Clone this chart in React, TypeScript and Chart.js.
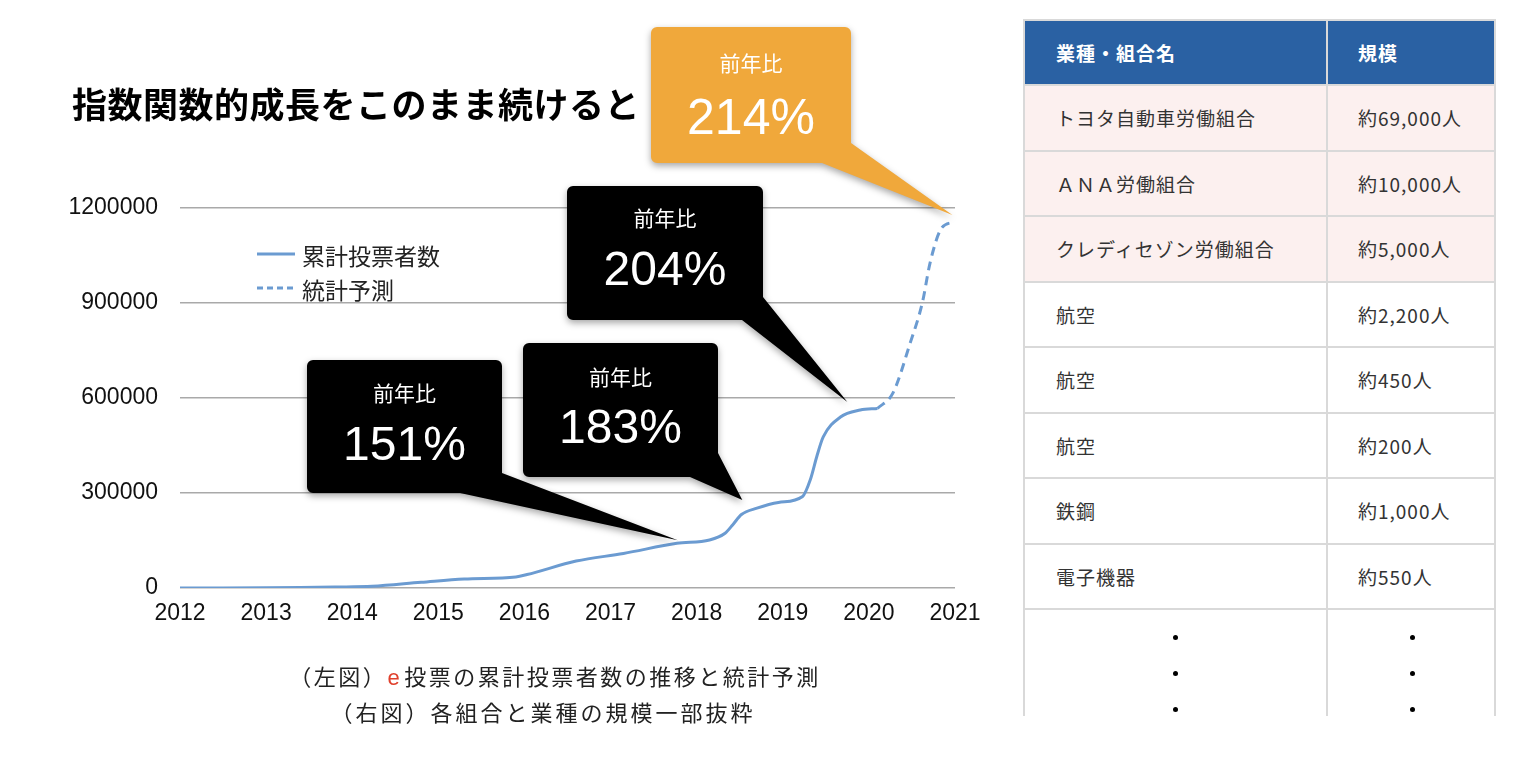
import React, { useEffect, useRef } from 'react';
import { Chart, registerables } from 'chart.js';

Chart.register(...registerables);

// ---------- data ----------
const tickYears = [2012, 2013, 2014, 2015, 2016, 2017, 2018, 2019, 2020, 2021];
const yTicks = [0, 300000, 600000, 900000, 1200000];
const seriesNames = ['累計投票者数', '統計予測'];

const actualYears = [2012, 2012.5, 2013, 2013.4, 2013.8, 2014.23, 2014.8, 2015.3, 2015.9, 2016.03, 2016.6, 2017.15, 2017.77, 2018.15, 2018.33, 2018.42, 2018.52, 2018.7, 2018.95, 2019.23, 2019.32, 2019.4, 2019.47, 2019.67, 2019.9, 2020.1];
const actualVoters = [0, 0, 500, 1500, 3000, 5300, 18000, 28600, 35000, 42400, 85000, 109000, 141000, 151600, 173000, 200000, 232000, 252000, 270000, 289000, 342000, 420000, 477000, 540000, 562000, 567000];

const forecastYears = [2020.1, 2020.28, 2020.48, 2020.62, 2020.71, 2020.83, 2020.98, 2021];
const forecastVoters = [567000, 616000, 774000, 900000, 1026000, 1130000, 1156000, 1158000];

const calloutTitle = '前年比';
const calloutRates = ['151%', '183%', '204%', '214%'];
const calloutYears = [2017.78, 2018.53, 2019.75, 2020.97];
const calloutValues = [151000, 278000, 587000, 1178000];

const tableHeaders = ['業種・組合名', '規模'];
const unionNames = ['トヨタ自動車労働組合', 'ＡＮＡ労働組合', 'クレディセゾン労働組合', '航空', '航空', '航空', '鉄鋼', '電子機器'];
const unionSizes = ['約69,000人', '約10,000人', '約5,000人', '約2,200人', '約450人', '約200人', '約1,000人', '約550人'];

const captionLine1 = ['（左図）', 'e', '投票の累計投票者数の推移と統計予測'];
const captionLine2 = '（右図）各組合と業種の規模一部抜粋';
const titleText = '指数関数的成長をこのまま続けると';

// ---------- styles / layout ----------
const CJK = '"Noto Sans CJK JP", "Noto Sans", sans-serif';
const LATIN = '"Liberation Sans", Arial, Helvetica, sans-serif';
const LINE_COLOR = '#6b9bd1';

const CALLOUT_LAYOUT = [
  { x: 307, y: 360, w: 195, h: 133, base: [[460, 493], [502, 473]], color: '#000000', titleDy: 33, numDy: 87, numSize: 48 },
  { x: 523, y: 343, w: 195, h: 134, base: [[690, 477], [718, 453]], color: '#000000', titleDy: 34, numDy: 87, numSize: 48 },
  { x: 567, y: 186, w: 196, h: 134, base: [[742, 320], [763, 297]], color: '#000000', titleDy: 32, numDy: 86, numSize: 48 },
  { x: 651, y: 27, w: 200, h: 136, base: [[822, 163], [851, 143]], color: '#f0a83b', titleDy: 36, numDy: 93, numSize: 50 },
];

const calloutPlugin = {
  id: 'callouts',
  afterDraw(chart: any) {
    const { ctx } = chart;
    const xs = chart.scales.x;
    const ys = chart.scales.y;
    ctx.save();
    calloutRates.forEach((rate, i) => {
      const b = CALLOUT_LAYOUT[i];
      const tx = xs.getPixelForValue(calloutYears[i]);
      const ty = ys.getPixelForValue(calloutValues[i]);
      let [p1, p2] = b.base;
      const cross = (tx - p1[0]) * (p2[1] - p1[1]) - (ty - p1[1]) * (p2[0] - p1[0]);
      if (cross < 0) {
        const t = p1; p1 = p2; p2 = t;
      }
      ctx.save();
      ctx.shadowColor = 'rgba(0,0,0,0.35)';
      ctx.shadowBlur = 7;
      ctx.shadowOffsetY = 3;
      ctx.fillStyle = b.color;
      ctx.beginPath();
      ctx.roundRect(b.x, b.y, b.w, b.h, 6);
      ctx.moveTo(p1[0], p1[1]);
      ctx.lineTo(tx, ty);
      ctx.lineTo(p2[0], p2[1]);
      ctx.closePath();
      ctx.fill('nonzero');
      ctx.restore();

      ctx.fillStyle = '#ffffff';
      ctx.textAlign = 'center';
      ctx.textBaseline = 'middle';
      ctx.font = `400 21px ${CJK}`;
      ctx.fillText(calloutTitle, b.x + b.w / 2, b.y + b.titleDy);
      ctx.font = `400 ${b.numSize}px ${LATIN}`;
      ctx.fillText(rate, b.x + b.w / 2, b.y + b.numDy);
    });

    // legend
    const ds = chart.data.datasets;
    const legendRows = [254, 288];
    ds.forEach((d: any, i: number) => {
      const yy = legendRows[i];
      ctx.save();
      ctx.strokeStyle = d.borderColor;
      ctx.lineWidth = 3;
      ctx.setLineDash(i === 0 ? [] : [6, 4]);
      ctx.beginPath();
      ctx.moveTo(257, yy);
      ctx.lineTo(295, yy);
      ctx.stroke();
      ctx.restore();
      ctx.fillStyle = '#222222';
      ctx.textAlign = 'left';
      ctx.textBaseline = 'middle';
      ctx.font = `400 23px ${CJK}`;
      ctx.fillText(d.label, 302, yy + 2);
    });
    ctx.restore();
  },
};

function Txt(props: { x: number; cy: number; size: number; children: any; style?: any }) {
  const { x, cy, size, children, style } = props;
  return (
    <div
      style={{
        position: 'absolute',
        left: x,
        top: cy - size / 2 - 1,
        fontSize: size,
        lineHeight: `${size}px`,
        whiteSpace: 'nowrap',
        fontFamily: CJK,
        ...style,
      }}
    >
      {children}
    </div>
  );
}

function CTxt(props: { cx: number; cy: number; size: number; children: any; style?: any }) {
  const { cx, cy, size, children, style } = props;
  return (
    <div
      style={{
        position: 'absolute',
        left: cx - 400,
        width: 800,
        textAlign: 'center',
        top: cy - size / 2 - 1,
        fontSize: size,
        lineHeight: `${size}px`,
        whiteSpace: 'nowrap',
        fontFamily: CJK,
        ...style,
      }}
    >
      {children}
    </div>
  );
}

const T_LEFT = 1024;
const T_RIGHT = 1495;
const T_DIV = 1327;
const T_TOP = 20;
const HEAD_BOTTOM = 85;
const ROW_H = 65.5;
const T_BOTTOM = 716;
const BORDER = '#d9d9d9';

function Table() {
  const els: any[] = [];
  els.push(<div key="hbg" style={{ position: 'absolute', left: T_LEFT, top: T_TOP, width: T_RIGHT - T_LEFT, height: HEAD_BOTTOM - T_TOP, background: '#2a61a3' }} />);
  unionNames.forEach((_, i) => {
    if (i < 3) {
      els.push(<div key={`pk${i}`} style={{ position: 'absolute', left: T_LEFT, top: HEAD_BOTTOM + i * ROW_H, width: T_RIGHT - T_LEFT, height: ROW_H, background: '#fcf0ef' }} />);
    }
  });
  const hLines = [T_TOP, HEAD_BOTTOM];
  for (let k = 1; k <= unionNames.length; k++) hLines.push(HEAD_BOTTOM + k * ROW_H);
  hLines.forEach((y, k) => {
    els.push(<div key={`hl${k}`} style={{ position: 'absolute', left: T_LEFT - 1, top: Math.round(y) - 1, width: T_RIGHT - T_LEFT + 2, height: 2, background: BORDER }} />);
  });
  [T_LEFT, T_DIV, T_RIGHT].forEach((x, k) => {
    els.push(<div key={`vl${k}`} style={{ position: 'absolute', left: x - 1, top: T_TOP - 1, width: 2, height: T_BOTTOM - T_TOP + 1, background: BORDER }} />);
  });
  els.push(<Txt key="h0" x={1056} cy={53} size={19} style={{ color: '#fff', fontWeight: 700, letterSpacing: 1 }}>{tableHeaders[0]}</Txt>);
  els.push(<Txt key="h1" x={1358} cy={53} size={19} style={{ color: '#fff', fontWeight: 700, letterSpacing: 1 }}>{tableHeaders[1]}</Txt>);
  unionNames.forEach((name, i) => {
    const cy = HEAD_BOTTOM + i * ROW_H + ROW_H / 2 + 1;
    els.push(<Txt key={`n${i}`} x={1056} cy={cy} size={19} style={{ color: '#333', letterSpacing: 1 }}>{name}</Txt>);
    els.push(<Txt key={`s${i}`} x={1358} cy={cy} size={19} style={{ color: '#333', letterSpacing: 1 }}>{unionSizes[i]}</Txt>);
  });
  [637, 673, 709].forEach((y, k) => {
    [1175, 1412].forEach((x, j) => {
      els.push(<div key={`d${k}-${j}`} style={{ position: 'absolute', left: x - 2.5, top: y - 2.5, width: 5, height: 5, borderRadius: 3, background: '#000' }} />);
    });
  });
  return <>{els}</>;
}

export default function App() {
  const ref = useRef<HTMLCanvasElement>(null);

  useEffect(() => {
    const fontTick = { family: LATIN, size: 23 };
    const chart = new Chart(ref.current as HTMLCanvasElement, {
      type: 'line',
      data: {
        datasets: [
          {
            label: seriesNames[0],
            data: actualYears.map((x, i) => ({ x, y: actualVoters[i] })),
            borderColor: LINE_COLOR,
            borderWidth: 3,
            pointRadius: 0,
            cubicInterpolationMode: 'monotone',
            fill: false,
          },
          {
            label: seriesNames[1],
            data: forecastYears.map((x, i) => ({ x, y: forecastVoters[i] })),
            borderColor: LINE_COLOR,
            borderWidth: 3,
            borderDash: [9, 6],
            pointRadius: 0,
            cubicInterpolationMode: 'monotone',
            fill: false,
          },
        ],
      } as any,
      options: {
        animation: false,
        responsive: false,
        maintainAspectRatio: false,
        layout: { padding: { left: 0, right: 45, top: 208, bottom: 112 } },
        plugins: { legend: { display: false }, tooltip: { enabled: false } },
        scales: {
          x: {
            type: 'linear',
            min: tickYears[0],
            max: tickYears[tickYears.length - 1],
            afterBuildTicks: (s: any) => {
              s.ticks = tickYears.map((v) => ({ value: v }));
            },
            ticks: {
              callback: (v: any) => String(v),
              font: fontTick,
              color: '#111',
              padding: 4,
              maxRotation: 0,
              autoSkip: false,
            },
            grid: { display: false },
            border: { display: false },
            afterFit: (s: any) => {
              s.height = 60;
            },
          },
          y: {
            min: 0,
            max: yTicks[yTicks.length - 1],
            afterBuildTicks: (s: any) => {
              s.ticks = yTicks.map((v) => ({ value: v }));
            },
            ticks: {
              callback: (v: any) => String(v),
              font: fontTick,
              color: '#111',
              padding: 22,
            },
            grid: { color: '#a9a9a9', lineWidth: 1.5, drawTicks: false },
            border: { display: false },
            afterFit: (s: any) => {
              s.width = 180;
            },
          },
        },
      } as any,
      plugins: [calloutPlugin],
    });
    return () => chart.destroy();
  }, []);

  return (
    <div style={{ position: 'absolute', left: 0, top: 0, width: 1518, height: 760, background: '#fff', overflow: 'hidden' }}>
      <canvas ref={ref} width={1000} height={760} style={{ position: 'absolute', left: 0, top: 0, width: 1000, height: 760 }} />
      <Txt x={72} cy={103} size={35} style={{ fontWeight: 700, color: '#000', letterSpacing: 0.5 }}>{titleText}</Txt>
      <CTxt cx={555} cy={676} size={22} style={{ color: '#222', letterSpacing: 2.5 }}>
        {captionLine1[0]}
        <span style={{ color: '#e0402c', fontFamily: LATIN, margin: '0 2px 0 0' }}>{captionLine1[1]}</span>
        {captionLine1[2]}
      </CTxt>
      <CTxt cx={543} cy={712} size={22} style={{ color: '#222', letterSpacing: 3 }}>{captionLine2}</CTxt>
      <Table />
    </div>
  );
}
